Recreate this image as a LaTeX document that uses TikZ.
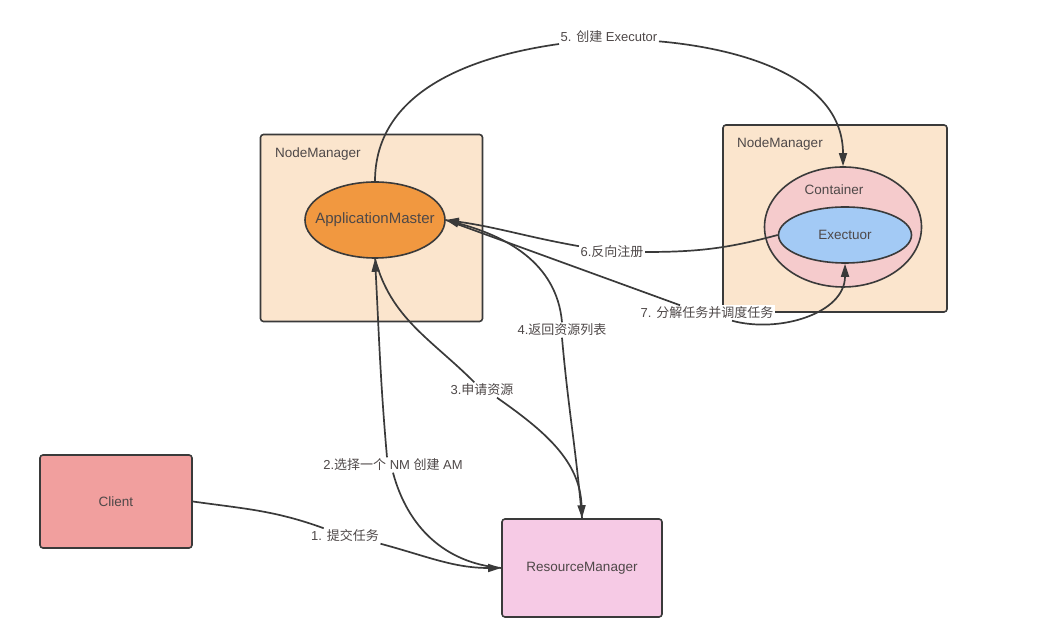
\documentclass[tikz,border=0pt]{standalone}
\usepackage{fontspec}
\setmainfont{Liberation Sans}
\newfontfamily\cjk{Noto Sans CJK SC}
\usepackage{tikz}
\usetikzlibrary{arrows.meta,shapes.geometric,positioning}
\definecolor{inkgray}{RGB}{58,58,58}
\definecolor{textgray}{RGB}{78,72,72}
\definecolor{nmpeach}{RGB}{251,229,205}
\definecolor{amorange}{RGB}{241,152,64}
\definecolor{ctpink}{RGB}{245,203,204}
\definecolor{exblue}{RGB}{163,202,245}
\definecolor{clientred}{RGB}{241,159,158}
\definecolor{rmpink}{RGB}{246,202,229}

\tikzset{
  nmbox/.style={draw=inkgray,fill=nmpeach,line width=1.6pt,rounded corners=3pt,
    minimum width=#1},
  plainbox/.style={draw=inkgray,line width=1.6pt,rounded corners=3pt,
    text=textgray,font=\fontsize{13.5}{16}\selectfont},
  oval/.style={ellipse,draw=inkgray,line width=1.6pt,inner sep=0pt,
    text=textgray,font=\fontsize{13.5}{16}\selectfont},
  boxtitle/.style={anchor=west,text=textgray,inner sep=0pt,
    font=\fontsize{13.5}{16}\selectfont},
  steplabel/.style={fill=white,text=textgray,inner sep=1.5pt,
    font=\fontsize{13}{15}\selectfont},
  conn/.style={draw=inkgray,line width=1.7pt},
  tip/.style={-{Triangle[length=13pt,width=8pt]}}
}

\begin{document}
\begin{tikzpicture}[x=1pt,y=1pt]
  \useasboundingbox (0,0) rectangle (1062,644);
  % node managers
  \node[nmbox=222pt,minimum height=187pt] (nmleft) at (371.5,416) {};
  \node[nmbox=224pt,minimum height=187pt] (nmright) at (835,425.5) {};
  \node[boxtitle] (nmleftname) at (275,490) {NodeManager};
  \node[boxtitle] (nmrightname) at (737,500) {NodeManager};
  % inner ellipses
  \node[oval,fill=amorange,minimum width=140pt,minimum height=76pt,
        font=\fontsize{15}{18}\selectfont] (am) at (375,424) {\makebox[0pt]{ApplicationMaster}};
  \node[oval,fill=ctpink,minimum width=157pt,minimum height=120pt] (cont) at (843,417) {};
  \node[boxtitle,anchor=center] (contname) at (834,454) {Container};
  \node[oval,fill=exblue,minimum width=133pt,minimum height=56pt] (exec) at (845,409) {\makebox[0pt]{Exectuor}};
  % client and resource manager
  \node[plainbox,fill=clientred,minimum width=152pt,minimum height=93pt] (client) at (116,142.5) {Client};
  \node[plainbox,fill=rmpink,minimum width=160pt,minimum height=98pt] (rm) at (582,76) {ResourceManager};
  % step labels
  \node[steplabel] (s1) at (345,108) {1. {\cjk 提交任务}};
  \node[steplabel] (s2) at (393,179) {2.{\cjk 选择一个} NM {\cjk 创建} AM};
  \node[steplabel] (s3) at (482,254) {3.{\cjk 申请资源}};
  \node[steplabel] (s4) at (562,314) {4.{\cjk 返回资源列表}};
  \node[steplabel] (s5) at (609,607) {5. {\cjk 创建} Executor};
  \node[steplabel] (s6) at (612,392) {6.{\cjk 反向注册}};

  % connectors
  \draw[conn] (client.east) to[out=-8,in=160] (s1);
  \draw[conn,tip] (s1.south east) to[out=-15,in=180] (rm.west);
  \draw[conn] (rm.west) to[out=175,in=-75] (s2.south);
  \draw[conn,tip] ([xshift=-6pt]s2.north) to[out=95,in=-87] (am.south);
  \draw[conn] (am.south) to[out=-75,in=135] (s3);
  \draw[conn,tip] ([xshift=15pt]s3.south) to[out=-35,in=92] (rm.north);
  \draw[conn] (rm.north) to[out=95,in=-85] (s4.south);
  \draw[conn,tip] (s4.north) to[out=95,in=-15] (am.east);
  \draw[conn] (am.north) to[out=90,in=188] (s5);
  \draw[conn,tip] (s5) to[out=-5,in=90] (cont.north);
  \draw[conn] (exec.west) to[out=195,in=0] (s6);
  \draw[conn,tip] (s6) to[out=170,in=-8] (am.east);
  \node[steplabel] (s7) at (707,331) {7. {\cjk 分解任务并调度任务}};
  \draw[conn] (am.east) -- ([xshift=-27pt]s7.north);
  \draw[conn,tip] ([xshift=25pt]s7.south) to[out=-15,in=-90] (exec.south);
\end{tikzpicture}
\end{document}
